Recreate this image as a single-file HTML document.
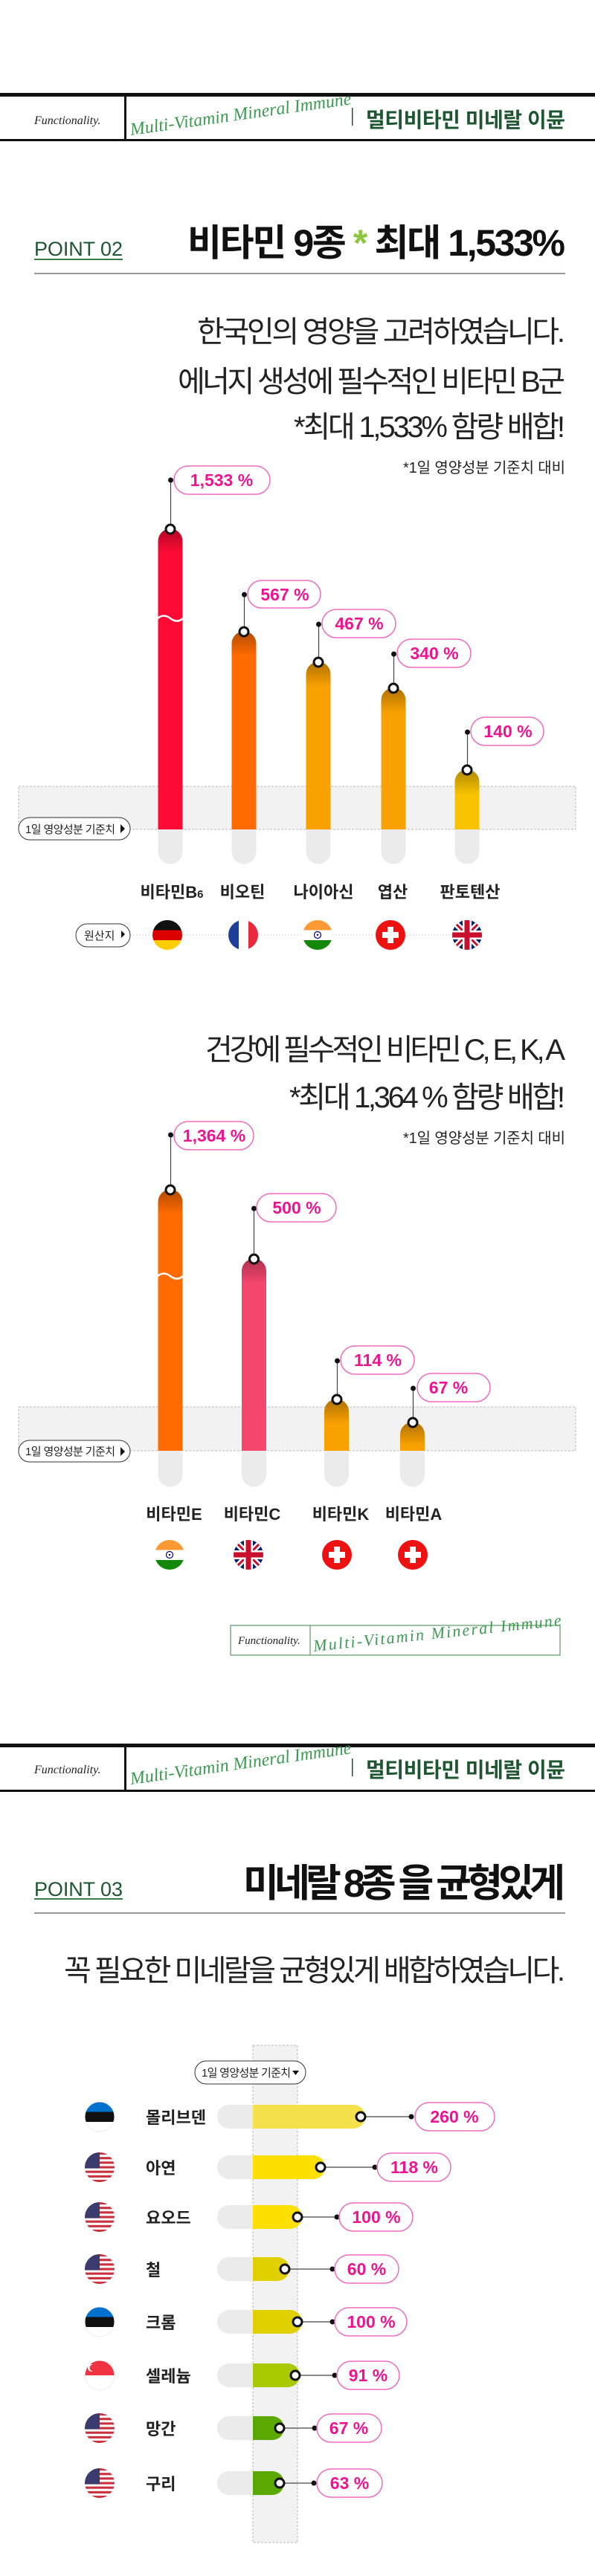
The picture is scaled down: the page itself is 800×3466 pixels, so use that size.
<!DOCTYPE html>
<html><head><meta charset="utf-8"><style>
html,body{margin:0;padding:0;background:#fff;}
svg{display:block;}
text{font-family:"Liberation Sans","Noto Sans CJK KR",sans-serif;}
.kr{font-family:"Liberation Sans","Noto Sans CJK KR",sans-serif;}
.pt{font-family:"Liberation Sans","Noto Sans CJK KR",sans-serif;font-weight:700;fill:#ee1390;font-size:23px;}
.lb{font-weight:700;fill:#222;font-size:22px;}
.fn{font-family:"Liberation Serif",serif;font-style:italic;fill:#222;}
.sc{font-family:"Liberation Serif",serif;font-style:italic;fill:#3c9a52;}
</style></head><body>
<svg width="800" height="3466" viewBox="0 0 800 3466" xmlns="http://www.w3.org/2000/svg">
<defs>
<clipPath id="cc"><circle cx="0" cy="0" r="20"/></clipPath>
<linearGradient id="sh" x1="0" y1="0" x2="0" y2="1"><stop offset="0" stop-color="#000" stop-opacity="0.3"/><stop offset="1" stop-color="#000" stop-opacity="0"/></linearGradient>
<linearGradient id="shh" x1="1" y1="0" x2="0" y2="0"><stop offset="0" stop-color="#000" stop-opacity="0.22"/><stop offset="1" stop-color="#000" stop-opacity="0"/></linearGradient>
<g id="de"><g clip-path="url(#cc)"><rect x="-20" y="-20" width="40" height="14" fill="#111"/><rect x="-20" y="-6.5" width="40" height="13.5" fill="#dd0000"/><rect x="-20" y="7" width="40" height="13" fill="#ffcc00"/></g></g>
<g id="fr"><g clip-path="url(#cc)"><rect x="-20" y="-20" width="14" height="40" fill="#1f3f99"/><rect x="-6" y="-20" width="13" height="40" fill="#fff"/><rect x="7" y="-20" width="13" height="40" fill="#e8283c"/></g></g>
<g id="in"><g clip-path="url(#cc)"><rect x="-20" y="-20" width="40" height="14" fill="#ff9933"/><rect x="-20" y="-6.5" width="40" height="13.5" fill="#fff"/><rect x="-20" y="7" width="40" height="13" fill="#138808"/><circle r="4.5" fill="none" stroke="#000080" stroke-width="1.2"/><circle r="1.2" fill="#000080"/></g></g>
<g id="ch"><circle r="20" fill="#ee1111"/><rect x="-4" y="-11" width="8" height="22" fill="#fff"/><rect x="-11" y="-4" width="22" height="8" fill="#fff"/></g>
<g id="uk"><g clip-path="url(#cc)"><rect x="-20" y="-20" width="40" height="40" fill="#012169"/><path d="M-20 -20L20 20M20 -20L-20 20" stroke="#fff" stroke-width="8"/><path d="M-20 -20L20 20M20 -20L-20 20" stroke="#c8102e" stroke-width="3"/><rect x="-6" y="-20" width="12" height="40" fill="#fff"/><rect x="-20" y="-6" width="40" height="12" fill="#fff"/><rect x="-3.5" y="-20" width="7" height="40" fill="#c8102e"/><rect x="-20" y="-3.5" width="40" height="7" fill="#c8102e"/></g></g>
<g id="us"><g clip-path="url(#cc)"><rect x="-20" y="-20" width="40" height="40" fill="#fff"/>
<rect x="-20" y="-20" width="40" height="3.1" fill="#c9303e"/><rect x="-20" y="-13.8" width="40" height="3.1" fill="#c9303e"/><rect x="-20" y="-7.7" width="40" height="3.1" fill="#c9303e"/><rect x="-20" y="-1.5" width="40" height="3.1" fill="#c9303e"/><rect x="-20" y="4.6" width="40" height="3.1" fill="#c9303e"/><rect x="-20" y="10.8" width="40" height="3.1" fill="#c9303e"/><rect x="-20" y="16.9" width="40" height="3.1" fill="#c9303e"/>
<rect x="-20" y="-20" width="20" height="21.5" fill="#3c3b6e"/></g></g>
<g id="ee"><g clip-path="url(#cc)"><rect x="-20" y="-20" width="40" height="13.5" fill="#0072ce"/><rect x="-20" y="-6.5" width="40" height="13.5" fill="#111"/><rect x="-20" y="7" width="40" height="13" fill="#fff"/></g><circle r="20" fill="none" stroke="#eee" stroke-width="1"/></g>
<g id="sg"><g clip-path="url(#cc)"><rect x="-20" y="-20" width="40" height="20" fill="#ef3340"/><rect x="-20" y="0" width="40" height="20" fill="#fff"/><circle cx="-11" cy="-10" r="5" fill="#fff"/><circle cx="-9" cy="-10" r="4.5" fill="#ef3340"/></g><circle r="20" fill="none" stroke="#eee" stroke-width="1"/></g>
</defs>

<!-- HEADER 1 -->
<rect x="0" y="125" width="800" height="5" fill="#111"/>
<rect x="0" y="187" width="800" height="3" fill="#111"/>
<rect x="167" y="128" width="3" height="60" fill="#111"/>
<text class="fn" x="46" y="167" font-size="16">Functionality.</text>
<text class="sc" x="176" y="182" font-size="24" textLength="300" transform="rotate(-8 176 182)">Multi-Vitamin Mineral Immune</text>
<rect x="473" y="145" width="1.5" height="24" fill="#1e5631"/>
<text class="kr" x="492" y="171" font-size="28" font-weight="700" fill="#1e5631" textLength="268">멀티비타민 미네랄 이뮨</text>

<!-- POINT 02 -->
<text x="46" y="344" font-size="27" fill="#1e5631" textLength="119">POINT 02</text>
<rect x="46" y="348" width="119" height="2" fill="#3a7a4a"/>
<text class="kr" x="760" y="344" font-size="50" font-weight="700" fill="#111" text-anchor="end" textLength="508">비타민 9종 <tspan fill="#8cc63f">*</tspan> 최대 1,533%</text>
<rect x="46" y="367" width="714" height="2" fill="#999"/>
<text class="kr" x="760" y="460" font-size="40" fill="#222" text-anchor="end" textLength="495">한국인의 영양을 고려하였습니다.</text>
<text class="kr" x="760" y="527" font-size="40" fill="#222" text-anchor="end" textLength="521">에너지 생성에 필수적인 비타민 B군</text>
<text class="kr" x="760" y="588" font-size="40" fill="#222" text-anchor="end" textLength="365">*최대 1,533% 함량 배합!</text>
<text class="kr" x="760" y="636" font-size="20" fill="#222" text-anchor="end" textLength="218">*1일 영양성분 기준치 대비</text>

<!-- CHART 1 -->
<rect x="25" y="1058" width="749" height="58" fill="#f2f2f2" stroke="#bbb" stroke-dasharray="3,2" stroke-width="1"/>
<g>
<!-- stubs -->
<path d="M212.5 1116h33v30a16.5 16.5 0 0 1 -33 0z" fill="#ebebeb"/>
<path d="M311.5 1116h33v30a16.5 16.5 0 0 1 -33 0z" fill="#ebebeb"/>
<path d="M411.5 1116h33v30a16.5 16.5 0 0 1 -33 0z" fill="#ebebeb"/>
<path d="M512.5 1116h33v30a16.5 16.5 0 0 1 -33 0z" fill="#ebebeb"/>
<path d="M611.5 1116h33v30a16.5 16.5 0 0 1 -33 0z" fill="#ebebeb"/>
<!-- bars -->
<path d="M212.5 1116V728a16.5 16.5 0 0 1 33 0V1116z" fill="#ff0a35"/>
<path d="M212.5 745V728a16.5 16.5 0 0 1 33 0V745z" fill="url(#sh)"/>
<path d="M212 832q8 -7 17 0t17 0" stroke="#fff" stroke-width="2.5" fill="none"/>
<path d="M311.5 1116V866a16.5 16.5 0 0 1 33 0V1116z" fill="#ff6b00"/>
<path d="M311.5 883V866a16.5 16.5 0 0 1 33 0V883z" fill="url(#sh)"/>
<path d="M411.5 1116V907a16.5 16.5 0 0 1 33 0V1116z" fill="#f9a100"/>
<path d="M411.5 924V907a16.5 16.5 0 0 1 33 0V924z" fill="url(#sh)"/>
<path d="M512.5 1116V942a16.5 16.5 0 0 1 33 0V1116z" fill="#f9a100"/>
<path d="M512.5 959V942a16.5 16.5 0 0 1 33 0V959z" fill="url(#sh)"/>
<path d="M611.5 1116V1052a16.5 16.5 0 0 1 33 0V1116z" fill="#f8c300"/>
<path d="M611.5 1069V1052a16.5 16.5 0 0 1 33 0V1069z" fill="url(#sh)"/>
</g>
<g stroke="#444" stroke-width="1.2">
<line x1="229.5" y1="646" x2="229.5" y2="712"/><line x1="328.5" y1="800" x2="328.5" y2="850"/><line x1="428.5" y1="840" x2="428.5" y2="891"/><line x1="529.5" y1="880" x2="529.5" y2="926"/><line x1="628.5" y1="985" x2="628.5" y2="1036"/>
</g>
<g fill="#fff" stroke="#111" stroke-width="3">
<circle cx="229" cy="712" r="6"/><circle cx="328" cy="850" r="6"/><circle cx="428" cy="891" r="6"/><circle cx="529" cy="926" r="6"/><circle cx="628" cy="1036" r="6"/>
</g>
<g fill="#111"><circle cx="229.5" cy="646" r="3.5"/><circle cx="328.5" cy="800" r="3.5"/><circle cx="428.5" cy="840" r="3.5"/><circle cx="529.5" cy="880" r="3.5"/><circle cx="628.5" cy="985" r="3.5"/></g>
<g fill="#fff" stroke="#f06cbf" stroke-width="1.5">
<rect x="234" y="627" width="129" height="38" rx="19"/><rect x="333" y="781" width="98" height="37" rx="18.5"/><rect x="433" y="820" width="99" height="38" rx="19"/><rect x="534" y="860" width="99" height="38" rx="19"/><rect x="633" y="965" width="98" height="38" rx="19"/>
</g>
<text class="pt" x="298" y="654" text-anchor="middle">1,533 %</text>
<text class="pt" x="383" y="808" text-anchor="middle">567 %</text>
<text class="pt" x="483" y="847" text-anchor="middle">467 %</text>
<text class="pt" x="584" y="887" text-anchor="middle">340 %</text>
<text class="pt" x="683" y="992" text-anchor="middle">140 %</text>
<rect x="25" y="1100" width="150" height="30" rx="15" fill="#fff" stroke="#333" stroke-width="1"/>
<text class="kr" x="34" y="1121" font-size="15" fill="#222" textLength="121">1일 영양성분 기준치</text>
<path d="M162 1109l6 6l-6 6z" fill="#111"/>
<text class="lb" x="231" y="1208" text-anchor="middle">비타민B<tspan font-size="15">6</tspan></text>
<text class="lb" x="326" y="1208" text-anchor="middle">비오틴</text>
<text class="lb" x="435" y="1208" text-anchor="middle">나이아신</text>
<text class="lb" x="528" y="1208" text-anchor="middle">엽산</text>
<text class="lb" x="632" y="1208" text-anchor="middle">판토텐산</text>
<line x1="175" y1="1258" x2="628" y2="1258" stroke="#ccc" stroke-dasharray="2,2"/>
<rect x="102" y="1243" width="73" height="31" rx="15.5" fill="#fff" stroke="#333"/>
<text class="kr" x="113" y="1264" font-size="15" fill="#222">원산지</text>
<path d="M163 1252l5 5l-5 5z" fill="#111"/>
<use href="#de" x="225" y="1258"/><use href="#fr" x="327" y="1258"/><use href="#in" x="427" y="1258"/><use href="#ch" x="525" y="1258"/><use href="#uk" x="628" y="1258"/>

<!-- SECTION 2 -->
<text class="kr" x="760" y="1426" font-size="40" fill="#222" text-anchor="end" textLength="484">건강에 필수적인 비타민 C, E, K, A</text>
<text class="kr" x="760" y="1490" font-size="40" fill="#222" text-anchor="end" textLength="371">*최대 1,364 % 함량 배합!</text>
<text class="kr" x="760" y="1538" font-size="20" fill="#222" text-anchor="end" textLength="218">*1일 영양성분 기준치 대비</text>
<rect x="25" y="1893" width="749" height="59" fill="#f2f2f2" stroke="#bbb" stroke-dasharray="3,2" stroke-width="1"/>
<path d="M212.5 1952h33v32a16.5 16.5 0 0 1 -33 0z" fill="#ebebeb"/>
<path d="M325 1952h33v32a16.5 16.5 0 0 1 -33 0z" fill="#ebebeb"/>
<path d="M436 1952h33v32a16.5 16.5 0 0 1 -33 0z" fill="#ebebeb"/>
<path d="M538 1952h33v32a16.5 16.5 0 0 1 -33 0z" fill="#ebebeb"/>
<path d="M212.5 1952V1617a16.5 16.5 0 0 1 33 0V1952z" fill="#ff6b00"/>
<path d="M212.5 1634V1617a16.5 16.5 0 0 1 33 0V1634z" fill="url(#sh)"/>
<path d="M212 1717q8 -7 17 0t17 0" stroke="#fff" stroke-width="2.5" fill="none"/>
<path d="M325 1952V1710a16.5 16.5 0 0 1 33 0V1952z" fill="#f5466e"/>
<path d="M325 1727V1710a16.5 16.5 0 0 1 33 0V1727z" fill="url(#sh)"/>
<path d="M436 1952V1899a16.5 16.5 0 0 1 33 0V1952z" fill="#f9a100"/>
<path d="M436 1916V1899a16.5 16.5 0 0 1 33 0V1916z" fill="url(#sh)"/>
<path d="M538 1952V1930a16.5 16.5 0 0 1 33 0V1952z" fill="#f9a100"/>
<path d="M538 1945V1930a16.5 16.5 0 0 1 33 0V1945z" fill="url(#sh)"/>
<g stroke="#444" stroke-width="1.2">
<line x1="229.5" y1="1527" x2="229.5" y2="1601"/><line x1="341.5" y1="1626" x2="341.5" y2="1694"/><line x1="453.5" y1="1831" x2="453.5" y2="1883"/><line x1="555.5" y1="1868" x2="555.5" y2="1914"/>
</g>
<g fill="#fff" stroke="#111" stroke-width="3"><circle cx="229" cy="1601" r="6"/><circle cx="341.5" cy="1694" r="6"/><circle cx="453" cy="1883" r="6"/><circle cx="555" cy="1914" r="6"/></g>
<g fill="#111"><circle cx="229.5" cy="1527" r="3.5"/><circle cx="341.5" cy="1626" r="3.5"/><circle cx="453.5" cy="1831" r="3.5"/><circle cx="555.5" cy="1868" r="3.5"/></g>
<g fill="#fff" stroke="#f06cbf" stroke-width="1.5">
<rect x="234" y="1509" width="107" height="38" rx="19"/><rect x="345" y="1606" width="107" height="38" rx="19"/><rect x="458" y="1811" width="99" height="38" rx="19"/><rect x="561" y="1848" width="98" height="38" rx="19"/>
</g>
<text class="pt" x="288" y="1536" text-anchor="middle">1,364 %</text>
<text class="pt" x="399" y="1633" text-anchor="middle">500 %</text>
<text class="pt" x="508" y="1838" text-anchor="middle">114 %</text>
<text class="pt" x="603" y="1875" text-anchor="middle">67 %</text>
<rect x="25" y="1938" width="150" height="29" rx="14.5" fill="#fff" stroke="#333"/>
<text class="kr" x="34" y="1958" font-size="15" fill="#222" textLength="121">1일 영양성분 기준치</text>
<path d="M162 1947l6 6l-6 6z" fill="#111"/>
<text class="lb" x="234" y="2045" text-anchor="middle">비타민E</text>
<text class="lb" x="339" y="2045" text-anchor="middle">비타민C</text>
<text class="lb" x="458" y="2045" text-anchor="middle">비타민K</text>
<text class="lb" x="556" y="2045" text-anchor="middle">비타민A</text>
<use href="#in" x="228" y="2092"/><use href="#uk" x="334" y="2092"/><use href="#ch" x="453" y="2092"/><use href="#ch" x="555" y="2092"/>

<!-- small logo -->
<rect x="310" y="2187" width="443" height="40" fill="#fff" stroke="#5a9a66" stroke-width="1.2"/>
<line x1="417" y1="2187" x2="417" y2="2227" stroke="#5a9a66" stroke-width="1.2"/>
<text class="fn" x="320" y="2212" font-size="15">Functionality.</text>
<text class="sc" x="422" y="2222" font-size="22" textLength="335" transform="rotate(-6 422 2222)">Multi-Vitamin Mineral Immune</text>

<!-- HEADER 2 -->
<rect x="0" y="2346" width="800" height="5" fill="#111"/>
<rect x="0" y="2408" width="800" height="3" fill="#111"/>
<rect x="167" y="2349" width="3" height="60" fill="#111"/>
<text class="fn" x="46" y="2386" font-size="16">Functionality.</text>
<text class="sc" x="176" y="2401" font-size="24" textLength="300" transform="rotate(-8 176 2401)">Multi-Vitamin Mineral Immune</text>
<rect x="473" y="2366" width="1.5" height="24" fill="#1e5631"/>
<text class="kr" x="492" y="2391" font-size="28" font-weight="700" fill="#1e5631" textLength="268">멀티비타민 미네랄 이뮨</text>

<!-- POINT 03 -->
<text x="46" y="2551" font-size="27" fill="#1e5631" textLength="119">POINT 03</text>
<rect x="46" y="2554" width="119" height="2" fill="#3a7a4a"/>
<text class="kr" x="760" y="2552" font-size="52" font-weight="700" fill="#111" text-anchor="end" textLength="433">미네랄 8종 을 균형있게</text>
<rect x="46" y="2573" width="714" height="2" fill="#999"/>
<text class="kr" x="760" y="2665" font-size="40" fill="#222" text-anchor="end" textLength="674">꼭 필요한 미네랄을 균형있게 배합하였습니다.</text>

<!-- CHART 3 -->
<rect x="340" y="2752" width="60" height="669" fill="#f2f2f2" stroke="#bbb" stroke-dasharray="3,2" stroke-width="1"/>
<rect x="262" y="2773" width="149" height="31" rx="15.5" fill="#fff" stroke="#333"/>
<text class="kr" x="271" y="2794" font-size="15" fill="#222" textLength="120">1일 영양성분 기준치</text>
<path d="M393 2786h9l-4.5 6z" fill="#111"/>

<g id="rows">
<!-- row template: track, bar, line, ring, dot, pill -->
<path d="M308 2832h32v32h-32a16 16 0 0 1 0 -32z" fill="#ebebeb"/>
<path d="M340 2832h135a16 16 0 0 1 0 32h-135z" fill="#f4e14c"/>
<line x1="485" y1="2848" x2="553" y2="2848" stroke="#444" stroke-width="1.2"/>
<circle cx="485" cy="2848" r="6" fill="#fff" stroke="#111" stroke-width="3"/><circle cx="553" cy="2848" r="3.5" fill="#111"/>
<rect x="558" y="2829" width="107" height="38" rx="19" fill="#fff" stroke="#f06cbf" stroke-width="1.5"/>
<text class="pt" x="611" y="2856" text-anchor="middle">260 %</text>

<path d="M308 2900h32v32h-32a16 16 0 0 1 0 -32z" fill="#ebebeb"/>
<path d="M340 2900h81a16 16 0 0 1 0 32h-81z" fill="#fde000"/>
<line x1="431" y1="2916" x2="504" y2="2916" stroke="#444" stroke-width="1.2"/>
<circle cx="431" cy="2916" r="6" fill="#fff" stroke="#111" stroke-width="3"/><circle cx="504" cy="2916" r="3.5" fill="#111"/>
<rect x="507" y="2897" width="99" height="38" rx="19" fill="#fff" stroke="#f06cbf" stroke-width="1.5"/>
<text class="pt" x="557" y="2924" text-anchor="middle">118 %</text>

<path d="M308 2967h32v32h-32a16 16 0 0 1 0 -32z" fill="#ebebeb"/>
<path d="M340 2967h50a16 16 0 0 1 0 32h-50z" fill="#fde000"/>
<line x1="400" y1="2983" x2="453" y2="2983" stroke="#444" stroke-width="1.2"/>
<circle cx="400" cy="2983" r="6" fill="#fff" stroke="#111" stroke-width="3"/><circle cx="453" cy="2983" r="3.5" fill="#111"/>
<rect x="456" y="2964" width="99" height="38" rx="19" fill="#fff" stroke="#f06cbf" stroke-width="1.5"/>
<text class="pt" x="506" y="2991" text-anchor="middle">100 %</text>

<path d="M308 3037h32v32h-32a16 16 0 0 1 0 -32z" fill="#ebebeb"/>
<path d="M340 3037h33a16 16 0 0 1 0 32h-33z" fill="#e1d000"/>
<line x1="383" y1="3053" x2="447" y2="3053" stroke="#444" stroke-width="1.2"/>
<circle cx="383" cy="3053" r="6" fill="#fff" stroke="#111" stroke-width="3"/><circle cx="447" cy="3053" r="3.5" fill="#111"/>
<rect x="450" y="3034" width="86" height="38" rx="19" fill="#fff" stroke="#f06cbf" stroke-width="1.5"/>
<text class="pt" x="493" y="3061" text-anchor="middle">60 %</text>

<path d="M308 3108h32v32h-32a16 16 0 0 1 0 -32z" fill="#ebebeb"/>
<path d="M340 3108h50a16 16 0 0 1 0 32h-50z" fill="#e1d000"/>
<line x1="400" y1="3124" x2="447" y2="3124" stroke="#444" stroke-width="1.2"/>
<circle cx="400" cy="3124" r="6" fill="#fff" stroke="#111" stroke-width="3"/><circle cx="447" cy="3124" r="3.5" fill="#111"/>
<rect x="450" y="3105" width="97" height="38" rx="19" fill="#fff" stroke="#f06cbf" stroke-width="1.5"/>
<text class="pt" x="499" y="3132" text-anchor="middle">100 %</text>

<path d="M308 3180h32v32h-32a16 16 0 0 1 0 -32z" fill="#ebebeb"/>
<path d="M340 3180h47a16 16 0 0 1 0 32h-47z" fill="#a9c900"/>
<line x1="397" y1="3196" x2="450" y2="3196" stroke="#444" stroke-width="1.2"/>
<circle cx="397" cy="3196" r="6" fill="#fff" stroke="#111" stroke-width="3"/><circle cx="450" cy="3196" r="3.5" fill="#111"/>
<rect x="453" y="3177" width="84" height="38" rx="19" fill="#fff" stroke="#f06cbf" stroke-width="1.5"/>
<text class="pt" x="495" y="3204" text-anchor="middle">91 %</text>

<path d="M308 3251h32v32h-32a16 16 0 0 1 0 -32z" fill="#ebebeb"/>
<path d="M340 3251h26a16 16 0 0 1 0 32h-26z" fill="#5aa800"/>
<line x1="376" y1="3267" x2="423" y2="3267" stroke="#444" stroke-width="1.2"/>
<circle cx="376" cy="3267" r="6" fill="#fff" stroke="#111" stroke-width="3"/><circle cx="423" cy="3267" r="3.5" fill="#111"/>
<rect x="426" y="3248" width="87" height="38" rx="19" fill="#fff" stroke="#f06cbf" stroke-width="1.5"/>
<text class="pt" x="469" y="3275" text-anchor="middle">67 %</text>

<path d="M308 3325h32v32h-32a16 16 0 0 1 0 -32z" fill="#ebebeb"/>
<path d="M340 3325h26a16 16 0 0 1 0 32h-26z" fill="#5aa800"/>
<line x1="376" y1="3341" x2="422" y2="3341" stroke="#444" stroke-width="1.2"/>
<circle cx="376" cy="3341" r="6" fill="#fff" stroke="#111" stroke-width="3"/><circle cx="422" cy="3341" r="3.5" fill="#111"/>
<rect x="426" y="3322" width="88" height="38" rx="19" fill="#fff" stroke="#f06cbf" stroke-width="1.5"/>
<text class="pt" x="470" y="3349" text-anchor="middle">63 %</text>
</g>

<use href="#ee" x="134" y="2848"/><use href="#us" x="134" y="2916"/><use href="#us" x="134" y="2983"/><use href="#us" x="134" y="3053"/><use href="#ee" x="134" y="3124"/><use href="#sg" x="134" y="3196"/><use href="#us" x="134" y="3267"/><use href="#us" x="134" y="3341"/>
<g class="lb" font-size="24">
<text class="lb" x="196" y="2857" font-size="24">몰리브덴</text>
<text class="lb" x="196" y="2925" font-size="24">아연</text>
<text class="lb" x="196" y="2992" font-size="24">요오드</text>
<text class="lb" x="196" y="3062" font-size="24">철</text>
<text class="lb" x="196" y="3133" font-size="24">크롬</text>
<text class="lb" x="196" y="3205" font-size="24">셀레늄</text>
<text class="lb" x="196" y="3276" font-size="24">망간</text>
<text class="lb" x="196" y="3350" font-size="24">구리</text>
</g>
</svg>
</body></html>
